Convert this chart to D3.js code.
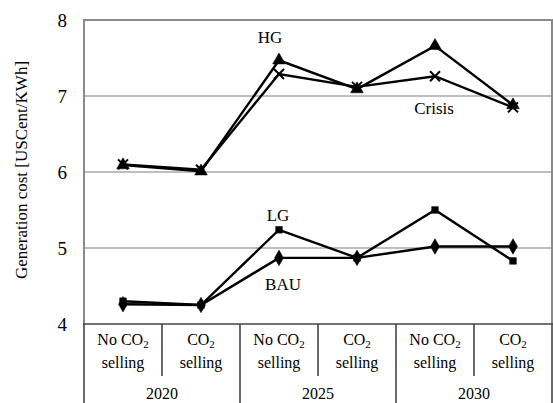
<!DOCTYPE html>
<html>
<head>
<meta charset="utf-8">
<script src="https://cdn.jsdelivr.net/npm/d3@7"></script>
<style>
  body { margin: 0; background: #fff; }
</style>
</head>
<body>
<div id="chart"></div>
<script>
"use strict";

// categories along the x axis (scenario / year)
const categories = ["2020-no", "2020-co2", "2025-no", "2025-co2", "2030-no", "2030-co2"];
const years = ["2020", "2025", "2030"];
const yTicks = [4, 5, 6, 7, 8];

// generation cost, USCent/KWh
const hgValues = [6.09, 6.01, 7.47, 7.09, 7.66, 6.88];
const crisisValues = [6.1, 6.03, 7.29, 7.12, 7.26, 6.85];
const lgValues = [4.3, 4.25, 5.24, 4.87, 5.5, 4.83];
const bauValues = [4.26, 4.25, 4.87, 4.87, 5.02, 5.02];

const series = [
  { name: "HG", values: hgValues, marker: "triangle" },
  { name: "Crisis", values: crisisValues, marker: "cross" },
  { name: "LG", values: lgValues, marker: "square" },
  { name: "BAU", values: bauValues, marker: "diamond" },
];

const W = 553, H = 403;
const plot = { left: 84, right: 552, top: 20, bottom: 324 };
const serif = "'Liberation Serif', 'DejaVu Serif', 'Times New Roman', Times, serif";

const svg = d3.select("#chart").append("svg")
  .attr("width", W).attr("height", H)
  .style("font-family", serif);

const x = d3.scaleBand().domain(categories).range([plot.left, plot.right]);
const y = d3.scaleLinear().domain([4, 8]).range([plot.bottom, plot.top]);

// gridlines
svg.append("g").selectAll("line")
  .data(yTicks.filter(d => d > 4 && d < 8))
  .join("line")
  .attr("x1", plot.left).attr("x2", plot.right)
  .attr("y1", d => y(d)).attr("y2", d => y(d))
  .attr("stroke", "#a8a8a8").attr("stroke-width", 1.5);

// frame
svg.append("path")
  .attr("d", `M${plot.left},${plot.bottom}V${plot.top}H${plot.right}V${plot.bottom}`)
  .attr("fill", "none").attr("stroke", "#8a8a8a").attr("stroke-width", 2);

// y tick labels
svg.append("g").selectAll("text")
  .data(yTicks)
  .join("text")
  .attr("x", 67).attr("y", d => y(d) + 7)
  .attr("text-anchor", "end")
  .attr("font-size", 19)
  .text(d => d);

// y title
svg.append("text")
  .attr("transform", "translate(27,170) rotate(-90)")
  .attr("text-anchor", "middle")
  .attr("font-size", 17)
  .text("Generation cost [USCent/KWh]");

// category axis
const axis = svg.append("g").attr("stroke", "#444").attr("stroke-width", 1.6);
axis.append("line")
  .attr("x1", plot.left - 1).attr("x2", plot.right + 1)
  .attr("y1", plot.bottom).attr("y2", plot.bottom);
categories.forEach((c, i) => {
  const xl = x(c);
  const long = i % 2 === 0;
  axis.append("line")
    .attr("x1", xl).attr("x2", xl)
    .attr("y1", plot.bottom).attr("y2", long ? H : 376);
});
axis.append("line")
  .attr("x1", plot.right).attr("x2", plot.right)
  .attr("y1", plot.bottom).attr("y2", H);

const catLabels = svg.append("g").selectAll("g")
  .data(categories)
  .join("g")
  .attr("transform", d => `translate(${x(d) + x.bandwidth() / 2},0)`);

const first = catLabels.append("text")
  .attr("y", 345)
  .attr("text-anchor", "middle")
  .attr("font-size", 16);
first.filter((d, i) => i % 2 === 0).append("tspan").text("No CO");
first.filter((d, i) => i % 2 === 1).append("tspan").text("CO");
first.append("tspan").attr("dy", 3).attr("font-size", 11).text("2");

catLabels.append("text")
  .attr("y", 368)
  .attr("text-anchor", "middle")
  .attr("font-size", 16)
  .text("selling");

svg.append("g").selectAll("text")
  .data(years)
  .join("text")
  .attr("x", (d, i) => x(categories[i * 2]) + x.bandwidth())
  .attr("y", 399)
  .attr("text-anchor", "middle")
  .attr("font-size", 16)
  .text(d => d);

// lines
const line = d3.line()
  .x((d, i) => x(categories[i]) + x.bandwidth() / 2)
  .y(d => y(d));

const sg = svg.append("g").selectAll("g")
  .data(series)
  .join("g");

sg.append("path")
  .attr("d", d => line(d.values))
  .attr("fill", "none")
  .attr("stroke", "#000")
  .attr("stroke-width", 2.4);

const symbols = {
  triangle: d3.symbol().type(d3.symbolTriangle).size(70)(),
  square: d3.symbol().type(d3.symbolSquare).size(45)(),
  diamond: d3.symbol().type(d3.symbolDiamond).size(70)(),
  cross: "M-5,-5L5,5M-5,5L5,-5",
};

sg.each(function (s) {
  d3.select(this).selectAll(".mk")
    .data(s.values)
    .join("path")
    .attr("class", "mk")
    .attr("transform", (d, i) => `translate(${x(categories[i]) + x.bandwidth() / 2},${y(d)})`)
    .attr("d", symbols[s.marker])
    .attr("fill", s.marker === "cross" ? "none" : "#000")
    .attr("stroke", "#000")
    .attr("stroke-width", s.marker === "cross" ? 2 : 0.5);
});

// series labels
const seriesLabels = [
  { text: "HG", x: 270, y: 43 },
  { text: "Crisis", x: 434, y: 114 },
  { text: "LG", x: 278, y: 221 },
  { text: "BAU", x: 283, y: 290 },
];
svg.append("g").selectAll("text")
  .data(seriesLabels)
  .join("text")
  .attr("x", d => d.x).attr("y", d => d.y)
  .attr("text-anchor", "middle")
  .attr("font-size", 17)
  .text(d => d.text);
</script>
</body>
</html>
